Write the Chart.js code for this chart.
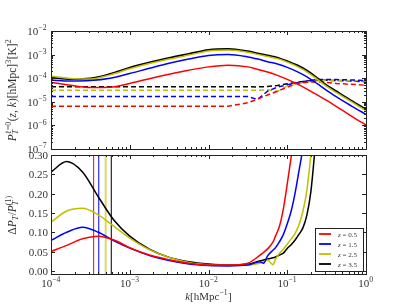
<!DOCTYPE html>
<html>
<head>
<meta charset="utf-8">
<script src="https://cdn.jsdelivr.net/npm/chart.js@4.4.1/dist/chart.umd.min.js"></script>
<style>
  html, body { margin: 0; padding: 0; background: #fff; }
  #wrap { position: relative; width: 407px; height: 305px; }
  #wrap canvas { position: absolute; left: 0; top: 0; }
</style>
</head>
<body>
<div id="wrap">
  <canvas id="topChart" width="407" height="305"></canvas>
  <canvas id="botChart" width="407" height="305"></canvas>
</div>
<script>
// k grid (log10 of k in h/Mpc)
const kLogTop = [-4, -3.75, -3.5, -3.25, -3, -2.75, -2.5, -2.25, -2, -1.75, -1.5, -1.375, -1.25, -1.125, -1, -0.875, -0.75, -0.625, -0.5, -0.375, -0.25, -0.125, 0];

// top panel, log10 P_T^(l=0)  -- solid lines
const pRed    = [-4.17, -4.3, -4.39, -4.38, -4.22, -4.02, -3.83, -3.66, -3.52, -3.45, -3.52, -3.63, -3.74, -3.88, -4.05, -4.24, -4.46, -4.7, -4.94, -5.2, -5.47, -5.73, -5.98];
const pBlue   = [-4.08, -4.12, -4.1, -4.0, -3.8, -3.58, -3.37, -3.19, -3.04, -3.0, -3.1, -3.19, -3.3, -3.4, -3.54, -3.72, -3.94, -4.22, -4.52, -4.79, -5.05, -5.3, -5.53];
const pYellow = [-3.92, -4.01, -4.03, -3.86, -3.6, -3.38, -3.19, -3.02, -2.85, -2.81, -2.9, -2.99, -3.08, -3.17, -3.32, -3.5, -3.73, -4.03, -4.35, -4.61, -4.87, -5.12, -5.38];
const pBlack  = [-3.97, -4.04, -4.01, -3.82, -3.55, -3.33, -3.14, -2.97, -2.8, -2.76, -2.86, -2.95, -3.04, -3.13, -3.28, -3.45, -3.68, -3.98, -4.3, -4.56, -4.82, -5.07, -5.32];
// dashed lines
const dRed    = [-5.19, -5.19, -5.19, -5.19, -5.19, -5.19, -5.19, -5.19, -5.19, -5.19, -5.04, -4.88, -4.71, -4.55, -4.38, -4.22, -4.17, -4.16, -4.18, -4.22, -4.25, -4.27, -4.3];
const dBlue   = [-4.78, -4.78, -4.78, -4.78, -4.78, -4.78, -4.78, -4.78, -4.78, -4.78, -4.78, -4.9, -4.55, -4.38, -4.28, -4.19, -4.12, -4.06, -4.05, -4.06, -4.07, -4.08, -4.1];
const dYellow = [-4.51, -4.51, -4.51, -4.51, -4.51, -4.51, -4.51, -4.51, -4.51, -4.51, -4.51, -4.51, -4.49, -4.56, -4.33, -4.25, -4.17, -4.12, -4.1, -4.1, -4.1, -4.11, -4.12];
const dBlack  = [-4.36, -4.36, -4.36, -4.36, -4.36, -4.36, -4.36, -4.36, -4.36, -4.36, -4.36, -4.37, -4.35, -4.31, -4.24, -4.17, -4.12, -4.09, -4.09, -4.1, -4.11, -4.13, -4.15];

// bottom panel, Delta P_T / P_T^(1)
const kLogBot = [-4, -3.8, -3.6, -3.4, -3.2, -3, -2.75, -2.5, -2.25, -2, -1.75, -1.5, -1.35, -1.3, -1.25, -1.18, -1.15, -1.1, -1.05, -1, -0.95, -0.9, -0.85, -0.8, -0.75, -0.7, -0.65, -0.6];
const rRed    = [0.050, 0.066, 0.083, 0.090, 0.080, 0.060, 0.041, 0.029, 0.020, 0.015, 0.015, 0.020, 0.040, 0.048, 0.057, 0.075, 0.090, 0.115, 0.160, 0.225, 0.295, 0.37, 0.45, 0.5, 0.55, 0.6, 0.65, 0.7];
const rBlue   = [0.079, 0.100, 0.113, 0.100, 0.078, 0.059, 0.040, 0.027, 0.018, 0.014, 0.013, 0.015, 0.024, 0.020, 0.039, 0.054, 0.060, 0.075, 0.094, 0.122, 0.155, 0.202, 0.26, 0.32, 0.40, 0.48, 0.55, 0.6];
const rYellow = [0.126, 0.155, 0.162, 0.145, 0.115, 0.085, 0.055, 0.035, 0.022, 0.016, 0.014, 0.015, 0.020, 0.023, 0.028, 0.016, 0.030, 0.045, 0.056, 0.069, 0.083, 0.097, 0.12, 0.155, 0.21, 0.30, 0.40, 0.5];
const rBlack  = [0.256, 0.283, 0.256, 0.192, 0.131, 0.090, 0.056, 0.035, 0.024, 0.018, 0.015, 0.017, 0.026, 0.028, 0.031, 0.034, 0.036, 0.041, 0.046, 0.058, 0.068, 0.080, 0.095, 0.112, 0.145, 0.205, 0.31, 0.42];
// vertical markers (k values)
const kMarks = [3.48e-4, 4.04e-4, 4.95e-4, 5.83e-4];

const zLabels = ['0.5', '1.5', '2.5', '3.5'];
const colors = ['#ff0000', '#0000ff', '#bfbf00', '#000000'];
const markColors = ['#ff0000', '#0000ff', 'rgba(191,191,0,0.6)', '#000000'];
const xTickExp = [-4, -3, -2, -1, 0];
const yTickExpTop = [-7, -6, -5, -4, -3, -2];
const yTicksBot = [0, 0.05, 0.10, 0.15, 0.20, 0.25, 0.30];
const yMinBot = -0.008, yMaxBot = 0.30;

const FONT = '"Liberation Serif", "DejaVu Serif", serif';
const TXT = '#333';

function fontOf(size, it) { return (it ? 'italic ' : '') + size + 'px ' + FONT; }
function partWidth(ctx, p, S) {
    if (p.t !== undefined) { ctx.font = fontOf(S, p.it); return ctx.measureText(p.t).width; }
    let w = 0;
    if (p.sup) { ctx.font = fontOf(S * 0.7, p.supIt); w = Math.max(w, ctx.measureText(p.sup).width); }
    if (p.sub) { ctx.font = fontOf(S * 0.7, p.subIt); w = Math.max(w, ctx.measureText(p.sub).width); }
    return w + 0.5;
}
function drawRich(ctx, parts, x, y, S, align) {
    let w = 0;
    parts.forEach(p => w += partWidth(ctx, p, S));
    let cx = align === 'right' ? x - w : (align === 'center' ? x - w / 2 : x);
    ctx.textAlign = 'left';
    ctx.textBaseline = 'alphabetic';
    parts.forEach(p => {
        const pw = partWidth(ctx, p, S);
        if (p.t !== undefined) {
            ctx.font = fontOf(S, p.it);
            ctx.fillText(p.t, cx, y);
        } else {
            if (p.sup) { ctx.font = fontOf(S * 0.7, p.supIt); ctx.fillText(p.sup, cx, y - S * 0.42); }
            if (p.sub) { ctx.font = fontOf(S * 0.7, p.subIt); ctx.fillText(p.sub, cx, y + S * 0.25); }
        }
        cx += pw;
    });
}
function pow10Label(e) { return [{ t: '10' }, { sup: (e < 0 ? '\u2212' : '') + Math.abs(e) }]; }

// matplotlib-like frame, inward ticks, labels
const mplAxes = {
    id: 'mplAxes',
    afterDatasetsDraw(chart, args, opts) {
        const { ctx, chartArea: a, scales } = chart;
        const xs = scales.x, ys = scales.y;
        ctx.save();
        ctx.strokeStyle = '#222';
        ctx.lineWidth = 1;
        ctx.beginPath();
        const vt = (v, len) => {
            const px = Math.round(xs.getPixelForValue(v)) + 0.5;
            ctx.moveTo(px, a.bottom); ctx.lineTo(px, a.bottom - len);
            ctx.moveTo(px, a.top); ctx.lineTo(px, a.top + len);
        };
        const ht = (v, len) => {
            const py = Math.round(ys.getPixelForValue(v)) + 0.5;
            ctx.moveTo(a.left, py); ctx.lineTo(a.left + len, py);
            ctx.moveTo(a.right, py); ctx.lineTo(a.right - len, py);
        };
        xTickExp.forEach(e => {
            vt(Math.pow(10, e), 4);
            if (e < 0) for (let m = 2; m < 10; m++) vt(m * Math.pow(10, e), 2);
        });
        if (opts.logY) {
            yTickExpTop.forEach(e => {
                ht(Math.pow(10, e), 4);
                if (e < -2) for (let m = 2; m < 10; m++) ht(m * Math.pow(10, e), 2);
            });
        } else {
            yTicksBot.forEach(v => ht(v, 4));
        }
        ctx.stroke();
        ctx.strokeRect(Math.round(a.left) + 0.5, Math.round(a.top) + 0.5, Math.round(a.right - a.left), Math.round(a.bottom - a.top));

        ctx.fillStyle = TXT;
        if (opts.logY) {
            yTickExpTop.forEach(e => {
                const py = ys.getPixelForValue(Math.pow(10, e));
                drawRich(ctx, pow10Label(e), a.left - 4, py + 4, 11, 'right');
            });
            ctx.save();
            ctx.translate(15.5, (a.top + a.bottom) / 2);
            ctx.rotate(-Math.PI / 2);
            drawRich(ctx, [
                { t: 'P', it: true }, { sup: '\u2113=0', sub: 'T', subIt: true },
                { t: '(' }, { t: 'z', it: true }, { t: ', ' }, { t: 'k', it: true }, { t: ')[hMpc]' },
                { sup: '3' }, { t: '[K]' }, { sup: '2' }
            ], 0, 0, 11.5, 'center');
            ctx.restore();
        } else {
            yTicksBot.forEach(v => {
                const py = ys.getPixelForValue(v);
                ctx.font = fontOf(11, false);
                ctx.textAlign = 'right';
                ctx.textBaseline = 'alphabetic';
                ctx.fillText(v.toFixed(2), a.left - 3, py + 4);
            });
            xTickExp.forEach(e => {
                const px = xs.getPixelForValue(Math.pow(10, e));
                drawRich(ctx, pow10Label(e), px, a.bottom + 13, 11, 'center');
            });
            drawRich(ctx, [{ t: 'k', it: true }, { t: '[hMpc' }, { sup: '\u22121' }, { t: ']' }],
                (a.left + a.right) / 2, a.bottom + 26, 11, 'center');
            ctx.save();
            ctx.translate(15.5, 215);
            ctx.rotate(-Math.PI / 2);
            drawRich(ctx, [
                { t: '\u0394' }, { t: 'P', it: true }, { sub: 'T', subIt: true }, { t: '/' },
                { t: 'P', it: true }, { sup: '(1)', sub: 'T', subIt: true }
            ], 0, 0, 11.5, 'center');
            ctx.restore();

            // legend
            const lx = 315, ly = 228, lw = 48, lh = 43;
            ctx.fillStyle = '#fff';
            ctx.fillRect(lx, ly, lw, lh);
            ctx.strokeStyle = '#222';
            ctx.strokeRect(lx + 0.5, ly + 0.5, lw, lh);
            zLabels.forEach((z, i) => {
                const ry = ly + 6 + i * 10;
                ctx.strokeStyle = colors[i];
                ctx.lineWidth = 1.8;
                ctx.beginPath();
                ctx.moveTo(lx + 4, ry); ctx.lineTo(lx + 16, ry);
                ctx.stroke();
                ctx.fillStyle = TXT;
                drawRich(ctx, [{ t: 'z', it: true }, { t: ' = ' + z }], lx + 23, ry + 2.5, 7, 'left');
            });
        }
        ctx.restore();
    }
};

function toPts(kLog, vals, isLog) {
    return kLog.map((lk, i) => ({ x: Math.pow(10, lk), y: isLog ? Math.pow(10, vals[i]) : vals[i] }));
}

const topSolid = [pRed, pBlue, pYellow, pBlack];
const topDash = [dRed, dBlue, dYellow, dBlack];
const topSets = [];
topSolid.forEach((v, i) => topSets.push({
    data: toPts(kLogTop, v, true), borderColor: colors[i], borderWidth: i === 3 ? 1.9 : 1.5,
    pointRadius: 0, cubicInterpolationMode: 'monotone', fill: false
}));
topDash.forEach((v, i) => topSets.push({
    data: toPts(kLogTop, v, true), borderColor: colors[i], borderWidth: 1.5, borderDash: [5, 3],
    pointRadius: 0, tension: 0, fill: false
}));

new Chart(document.getElementById('topChart'), {
    type: 'line',
    data: { datasets: topSets },
    options: {
        responsive: false, animation: false, events: [],
        layout: { padding: { left: 51, right: 41, top: 31, bottom: 156 } },
        scales: {
            x: { type: 'logarithmic', min: 1e-4, max: 1, display: false },
            y: { type: 'logarithmic', min: 1e-7, max: 1e-2, display: false }
        },
        plugins: { legend: { display: false }, tooltip: { enabled: false }, mplAxes: { logY: true } }
    },
    plugins: [mplAxes]
});

const botVals = [rRed, rBlue, rYellow, rBlack];
const botSets = [];
botVals.forEach((v, i) => botSets.push({
    data: toPts(kLogBot, v, false), borderColor: colors[i], borderWidth: 1.5,
    pointRadius: 0, cubicInterpolationMode: 'monotone', fill: false
}));
kMarks.forEach((k, i) => botSets.push({
    data: [{ x: k, y: yMinBot }, { x: k, y: yMaxBot }], borderColor: markColors[i],
    borderWidth: i === 2 ? 2 : 1, pointRadius: 0, fill: false
}));

new Chart(document.getElementById('botChart'), {
    type: 'line',
    data: { datasets: botSets },
    options: {
        responsive: false, animation: false, events: [],
        layout: { padding: { left: 51, right: 41, top: 155, bottom: 31 } },
        scales: {
            x: { type: 'logarithmic', min: 1e-4, max: 1, display: false },
            y: { type: 'linear', min: yMinBot, max: yMaxBot, display: false }
        },
        plugins: { legend: { display: false }, tooltip: { enabled: false }, mplAxes: { logY: false } }
    },
    plugins: [mplAxes]
});
</script>
</body>
</html>
